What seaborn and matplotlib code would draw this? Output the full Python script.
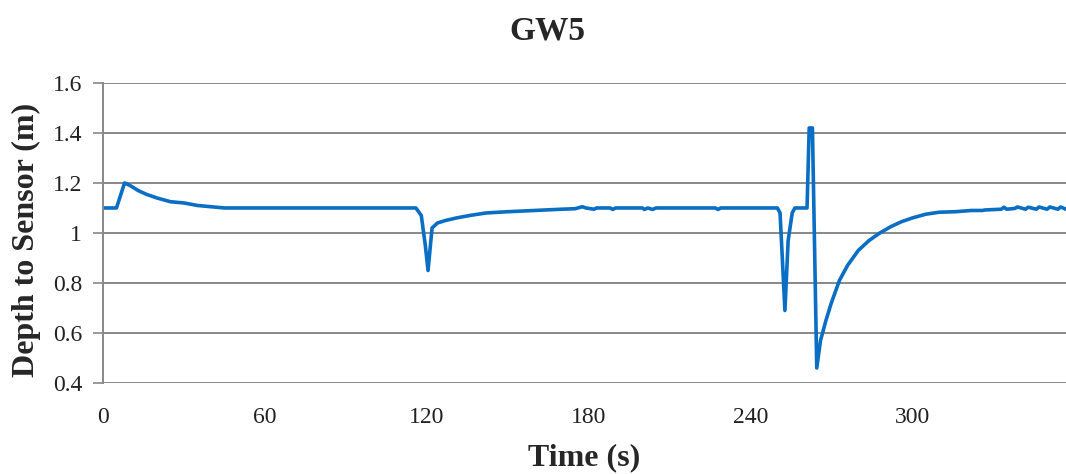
import numpy as np
import pandas as pd
import matplotlib
matplotlib.use("Agg")
import matplotlib.pyplot as plt
import seaborn as sns

# -----------------------------
# Datos leidos del grafico GW5 (por tramos)
# -----------------------------
# inicio: pico a 1.2 y decaimiento
t_inicio = [0, 5, 8, 10, 13, 16, 20, 25, 30, 35, 45, 60, 100, 116]
d_inicio = [1.1, 1.1, 1.2, 1.19, 1.17, 1.155, 1.14, 1.125, 1.12, 1.11, 1.1, 1.1, 1.1, 1.1]

# caida cerca de 120 s y recuperacion
t_caida1 = [118, 119.5, 120.5, 122, 124, 127, 131, 136, 142, 150, 160, 170, 175]
d_caida1 = [1.07, 0.95, 0.85, 1.02, 1.04, 1.05, 1.06, 1.07, 1.08, 1.085, 1.09, 1.095, 1.097]

# tramo estable con ruido
t_ruido = [177.7, 179, 182, 183, 188, 189, 190, 200, 200.7, 202, 203.7, 205, 215, 227, 228, 229, 245]
d_ruido = [1.105, 1.1, 1.095, 1.1, 1.1, 1.094, 1.1, 1.1, 1.094, 1.1, 1.094, 1.1, 1.1, 1.1, 1.094, 1.1, 1.1]

# eventos cerca de 250-265 s
t_eventos = [250, 251, 252.8, 254, 255.5, 256.5, 261, 261.8, 263, 264.6]
d_eventos = [1.1, 1.08, 0.69, 0.97, 1.08, 1.1, 1.1, 1.42, 1.42, 0.46]

# recuperacion lenta
t_recup = [266, 268, 270, 273, 276, 280, 284, 288, 292, 296, 300, 305, 310, 316, 322]
d_recup = [0.57, 0.65, 0.72, 0.81, 0.87, 0.93, 0.97, 1.0, 1.025, 1.045, 1.06, 1.075, 1.083, 1.085, 1.09]

# cola con ruido
t_cola = [326, 327, 333, 334, 335, 338, 339, 342, 343, 346, 347, 350, 351, 354, 355, 357]
d_cola = [1.09, 1.092, 1.095, 1.103, 1.095, 1.098, 1.104, 1.095, 1.103, 1.095, 1.104, 1.095, 1.104, 1.095, 1.104, 1.095]

yticks = [0.4, 0.6, 0.8, 1.0, 1.2, 1.4, 1.6]
ytick_labels = ["0.4", "0.6", "0.8", "1", "1.2", "1.4", "1.6"]
xticks = [0, 60, 120, 180, 240, 300]

df = pd.DataFrame({
    "Time": t_inicio + t_caida1 + t_ruido + t_eventos + t_recup + t_cola,
    "Depth": d_inicio + d_caida1 + d_ruido + d_eventos + d_recup + d_cola,
})

sns.set_style("white")
plt.rcParams['font.family'] = ['Liberation Serif', 'DejaVu Serif']

fig = plt.figure(figsize=(10.66, 4.74), dpi=100)
ax = fig.add_axes([0.0966, 0.192, 0.9034, 0.633])

sns.lineplot(data=df, x="Time", y="Depth", ax=ax, color="#0A6EC4",
             linewidth=2.6, estimator=None, sort=False)

ax.set_xlim(0, 357)
ax.set_ylim(0.4, 1.6)
ax.set_yticks(yticks)
ax.set_yticklabels(ytick_labels)
ax.set_xticks(xticks)
ax.set_xticklabels([str(t) for t in xticks])

for y in yticks:
    ax.axhline(y, color="#888888", linewidth=1.4, zorder=0)

for s in ["top", "right", "bottom"]:
    ax.spines[s].set_visible(False)
ax.spines["left"].set_color("#888888")
ax.spines["left"].set_linewidth(1.4)

ax.tick_params(axis="y", length=7, width=1.2, color="#888888", pad=8,
               labelsize=17, left=True, labelcolor="#222222")
ax.tick_params(axis="x", length=0, pad=17, labelsize=17, labelcolor="#222222")

ax.set_xlabel("Time (s)", fontsize=23, fontweight="bold", va="center")
ax.xaxis.set_label_coords(0.5, -0.25)
ax.set_ylabel("Depth to Sensor (m)", fontsize=23, fontweight="bold", va="center")
ax.yaxis.set_label_coords(-0.079, 0.477)
fig.text(547 / 1066, 1 - 40 / 474, "GW5", fontsize=24, fontweight="bold",
         ha="center", va="baseline")

fig.savefig("out.png", dpi=100)
